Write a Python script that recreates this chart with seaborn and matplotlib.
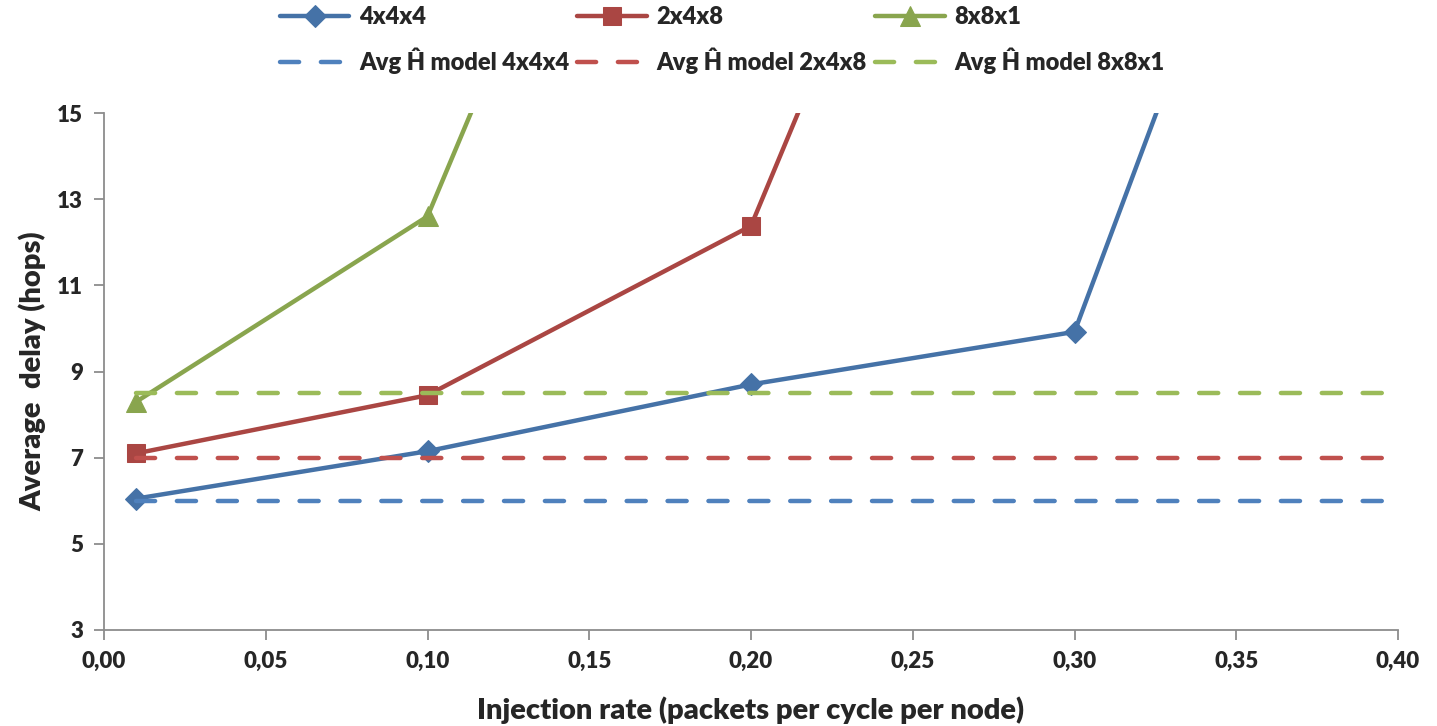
import matplotlib
matplotlib.use("Agg")
import matplotlib.pyplot as plt
import seaborn as sns
import pandas as pd

# Injection rates (packets per cycle per node)
rates = [0.01, 0.10, 0.20, 0.30, 0.40]

# Measured average delay (hops); the last points saturate above the plotted range
delay_4x4x4 = [6.05, 7.15, 8.7, 9.92, 30.0]
delay_2x4x8 = [7.1, 8.45, 12.38, 30.4]
delay_8x8x1 = [8.3, 12.6, 30.5]

# Average hop count from the analytical model
model_4x4x4 = [6.0, 6.0, 6.0, 6.0, 6.0]
model_2x4x8 = [7.0, 7.0, 7.0, 7.0, 7.0]
model_8x8x1 = [8.5, 8.5, 8.5, 8.5, 8.5]

sns.set_theme(style="white")
plt.rcParams["font.family"] = ["Lato", "DejaVu Sans"]
WEIGHT = "heavy"

fig = plt.figure(figsize=(14.37, 7.26), dpi=100)
ax = fig.add_axes([104 / 1437, 1 - 630 / 726, (1398 - 104) / 1437, (630 - 113) / 726])

solid = [
    ("4x4x4", delay_4x4x4, "#4572A7", "D", 11),
    ("2x4x8", delay_2x4x8, "#AA4643", "s", 13.5),
    ("8x8x1", delay_8x8x1, "#89A54E", "^", 14.5),
]
dashed = [
    ("Avg Ĥ model 4x4x4", model_4x4x4, "#4F81BD"),
    ("Avg Ĥ model 2x4x8", model_2x4x8, "#C0504D"),
    ("Avg Ĥ model 8x8x1", model_8x8x1, "#9BBB59"),
]

handles = []
for (lab, vals, col, mk, ms), (dlab, dvals, dcol) in zip(solid, dashed):
    df = pd.DataFrame({"x": rates[:len(vals)], "y": vals})
    sns.lineplot(data=df, x="x", y="y", ax=ax, color=col, linewidth=3.2,
                 marker=mk, markersize=ms, markeredgecolor=col, label=lab,
                 solid_joinstyle="miter")
    handles.append(ax.lines[-1])
    dfm = pd.DataFrame({"x": rates[:len(dvals)], "y": dvals})
    sns.lineplot(data=dfm, x="x", y="y", ax=ax, color=dcol, linewidth=3.2,
                 label=dlab, dashes=False)
    ln = ax.lines[-1]
    ln.set_dashes([4.3, 4.9])
    ln.set_dash_capstyle("round")
    handles.append(ln)

ax.set_xlim(0, 0.40)
ax.set_ylim(3, 15)
ax.set_xticks([0.00, 0.05, 0.10, 0.15, 0.20, 0.25, 0.30, 0.35, 0.40])
ax.set_xticklabels([f"{v:.2f}".replace(".", ",") for v in ax.get_xticks()])
ax.set_yticks([3, 5, 7, 9, 11, 13, 15])

for s in ["top", "right"]:
    ax.spines[s].set_visible(False)
for s in ["left", "bottom"]:
    ax.spines[s].set_color("#8c8c8c")
    ax.spines[s].set_linewidth(1.3)
ax.tick_params(axis="both", which="both", direction="out", length=7, width=1.3,
               color="#8c8c8c", labelsize=16, pad=8, left=True, bottom=True)
for t in ax.get_xticklabels() + ax.get_yticklabels():
    t.set_fontweight(WEIGHT)

ax.set_xlabel("Injection rate (packets per cycle per node)", fontsize=21,
              fontweight=WEIGHT, labelpad=18)
ax.set_ylabel("Average  delay (hops)", fontsize=21, fontweight=WEIGHT, labelpad=8)

ax.legend(handles=handles, labels=[h.get_label() for h in handles], ncol=3,
          loc="upper center", bbox_to_anchor=(722 / 1437, 1.005),
          bbox_transform=fig.transFigure, frameon=False,
          handlelength=2.95, columnspacing=0.35, handletextpad=0.4,
          labelspacing=0.85, borderaxespad=0.0, numpoints=1,
          prop={"weight": WEIGHT, "size": 17})

fig.savefig("out.png", dpi=100)
